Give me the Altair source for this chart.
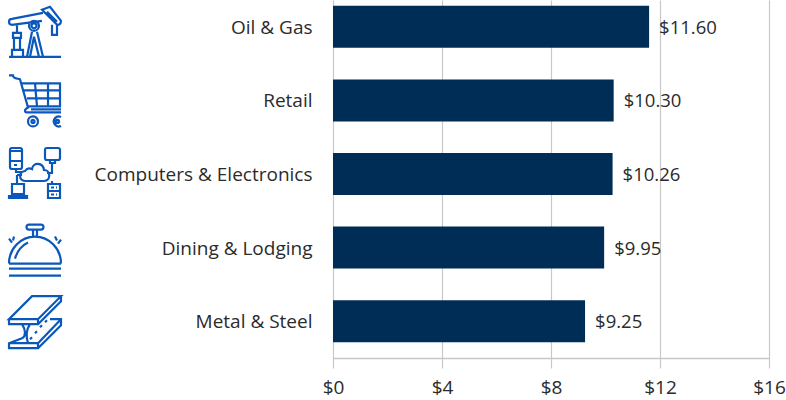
import altair as alt
import pandas as pd

categories = ["Oil & Gas", "Retail", "Computers & Electronics", "Dining & Lodging", "Metal & Steel"]
values = [11.60, 10.30, 10.26, 9.95, 9.25]
labels = ["$11.60", "$10.30", "$10.26", "$9.95", "$9.25"]
x_ticks = [0, 4, 8, 12, 16]

NAVY = "#002d55"
ICON = "#0a58bc"
GRID = "#c8c8c8"
TEXT = "#2b2b2b"
FONT = "Open Sans"

# Line-art glyphs as SVG paths, in pixels around each glyph's centre.
pumpjack = (
    "M-26 25H26 M-23 25V18H-12V25 M-21 18V6H-15V18 M-22 6V1H-14V6H-22Z M-18 1V-8 "
    "M-23 -7C-27 -7 -27 -13 -23 -13L8 -19 M-23 -7L7 -11 "
    "M7 -22L15 -25L26 -11C26 -7 23 -6 21 -8L7 -22Z M12 -20L22 -10 "
    "M17 -7V3H22V-7 "
    "M-6 -6A5 5 0 1 1 4 -6A5 5 0 1 1 -6 -6Z M-3.5 -6A2.5 2.5 0 1 1 1.5 -6A2.5 2.5 0 1 1 -3.5 -6Z "
    "M-3 0L-8 25 M2 0L8 25 M-1 5L-5 25 M-1 5L4 25"
)
cart = (
    "M-26 -25H-22C-22 -22 -18 -22 -15 -21L-7 7C-11 9 -11 12 -7 12H26 "
    "M-13 -17H26 M-11 -10H26 M-8 -2H26 M-7 6H26 M-4 9H26 "
    "M0 -17L2 6 M13 -17V6 M25 -17V6 "
    "M-7 21A5 5 0 1 1 3 21A5 5 0 1 1 -7 21Z M-3.5 21A1.5 1.5 0 1 1 -0.5 21A1.5 1.5 0 1 1 -3.5 21Z "
    "M26 16.5A5 5 0 1 0 26 25.5 M21 21A1.5 1.5 0 1 1 24 21A1.5 1.5 0 1 1 21 21Z"
)
network = (
    "M-25 -22A2 2 0 0 1 -23 -24H-15A2 2 0 0 1 -13 -22V-5A2 2 0 0 1 -15 -3H-23A2 2 0 0 1 -25 -5Z "
    "M-25 -21H-13 M-25 -11H-13 M-21 -7H-18 "
    "M10 -22A2 2 0 0 1 12 -24H23A2 2 0 0 1 25 -22V-14A2 2 0 0 1 23 -12H12A2 2 0 0 1 10 -14Z "
    "M15 -12V-9H20V-12 M17 -9V1H12 "
    "M-10 9C-16 9 -17 0 -10 -1C-8 -4 -5 -4 -3 -3C-2 -10 8 -10 9 -2C16 -2 16 9 9 9Z "
    "M-19 -3V0H-13 M-18 3V12 M-18 3H-13 "
    "M-23 12H-11V22H-23Z M-26 24H-8V26H-26Z "
    "M17 9V12 M13 12H25V26H13Z M13 19H25 M16 15.5H19 M21 15.5H22 M16 22.5H19 M21 22.5H22"
)
bell = (
    "M-26 18H26 M-26 25H26 M-26 13A26 27 0 0 1 26 13 M-26 13H26 "
    "M-20 8C-18 1 -13 -5 -7 -8 M-2 -21V-14 M2 -21V-14 "
    "M-6 -26H6A2.5 2.5 0 0 1 6 -21H-6A2.5 2.5 0 0 1 -6 -26Z "
    "M-21 -14L-22 -10 M-26 -12L-23 -8 M20 -14L22 -10 M26 -11L23 -7"
)
beam = (
    "M-3 -26H26L3 -3H-26Z M-26 -3V2H3V-3 M3 2L26 -21V-26 "
    "M-13 2C-9 8 -9 14 -13 16L-26 21V26H3V21H-26 "
    "M-5 2C-9 8 -9 15 -7 21 M3 26L26 3V-3H15 M3 21L26 -3 "
    "M-5 17L-3 15 M0 11L2 9 M5 5L7 3 M10 0L12 -2"
)
icons = [pumpjack, cart, network, bell, beam]
icon_nudges = [5, 0, -2, 3, 1]

df = pd.DataFrame({"category": categories, "value": values, "label": labels})

y = alt.Y(
    "category:N",
    sort=categories,
    scale=alt.Scale(range=[-10, 358], paddingInner=0.43, paddingOuter=0.215),
    axis=alt.Axis(
        title=None, ticks=False, domain=False, labelPadding=21, labelFontSize=19,
        labelFont=FONT, labelColor=TEXT, labelLimit=300, labelOffset=1,
    ),
)
x = alt.X(
    "value:Q",
    scale=alt.Scale(domain=[0, 16], nice=False),
    axis=alt.Axis(
        title=None, values=x_ticks, format="$.0f", grid=True, gridColor=GRID, gridWidth=1.2,
        domainColor=GRID, domainWidth=1.5, ticks=False, labelPadding=20, labelFontSize=19,
        labelFont=FONT, labelColor=TEXT, labelFlush=False, labelOverlap=False,
    ),
)

bars = alt.Chart(df).mark_bar(color=NAVY, size=42, clip=False).encode(x=x, y=y)
text = alt.Chart(df).mark_text(
    align="left", baseline="middle", dx=10, dy=1, font=FONT, fontSize=18.5, color=TEXT
).encode(x="value:Q", y=alt.Y("category:N", sort=categories), text="label:N")

layers = [bars, text]
for category, path, nudge in zip(categories, icons, icon_nudges):
    glyph = alt.Chart(df[df.category == category]).mark_point(
        shape=path, size=4, filled=False, stroke=ICON, strokeWidth=2.2, opacity=1, yOffset=nudge
    ).encode(
        x=alt.value(-298),
        y=alt.Y("category:N", sort=categories),
    )
    layers.append(glyph)

chart = alt.layer(*layers).properties(
    width=436,
    height=358,
    padding={"left": 333, "right": 17, "top": 0, "bottom": 42},
    autosize=alt.AutoSizeParams(type="none"),
).configure_view(stroke=None)

chart.save("out.html", embed_options={"renderer": "svg", "actions": False})
